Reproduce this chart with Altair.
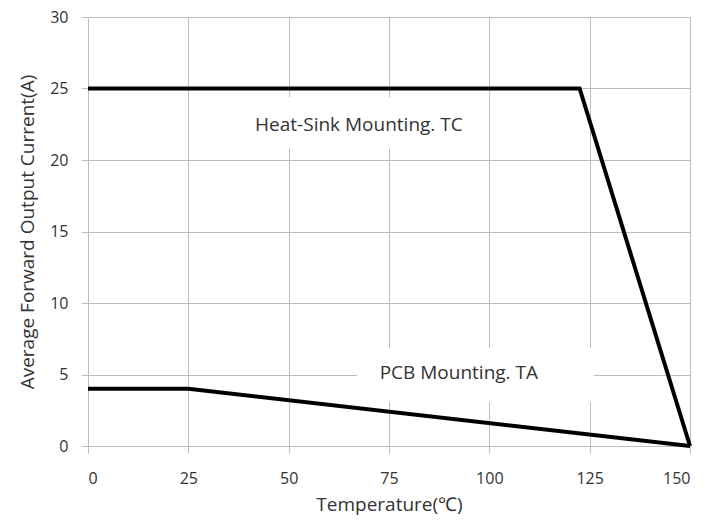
import altair as alt
import pandas as pd

# Data
hs_temp = [0, 122.5, 150]
hs_curr = [25, 25, 0]
pcb_temp = [0, 25, 150]
pcb_curr = [4, 4, 0]

label_text = ["Heat-Sink Mounting. TC", "PCB Mounting. TA"]
label_x = [67.5, 92.4]
label_y = [22.45, 5.1]
box_x1 = [38, 67]
box_x2 = [97, 126]
box_y1 = [20.8, 3.1]
box_y2 = [24.4, 6.85]

lines = pd.DataFrame(
    [{"series": "Heat-Sink", "order": i, "t": t, "c": c} for i, (t, c) in enumerate(zip(hs_temp, hs_curr))]
    + [{"series": "PCB", "order": i, "t": t, "c": c} for i, (t, c) in enumerate(zip(pcb_temp, pcb_curr))]
)
labels = pd.DataFrame({"text": label_text, "x": label_x, "y": label_y,
                       "x1": box_x1, "x2": box_x2, "y1": box_y1, "y2": box_y2})

FONT = "Open Sans"
xscale = alt.Scale(domain=[0, 150], nice=False)
yscale = alt.Scale(domain=[0, 30], nice=False)

xaxis = alt.Axis(values=[0, 25, 50, 75, 100, 125, 150], title="Temperature(℃)",
                 grid=True, gridColor="#bdbdbd", gridWidth=1,
                 domain=False, tickColor="#bdbdbd", tickSize=7,
                 labelFont=FONT, labelFontSize=16, labelColor="#333333", labelPadding=17,
                 titleFont=FONT, titleFontSize=19, titleFontWeight="normal", titleColor="#333333",
                 titlePadding=9)
yaxis = alt.Axis(values=[0, 5, 10, 15, 20, 25, 30], title="Average Forward Output Current(A)",
                 grid=True, gridColor="#bdbdbd", gridWidth=1,
                 domain=False, tickColor="#bdbdbd", tickSize=7,
                 labelFont=FONT, labelFontSize=16, labelColor="#333333", labelPadding=13,
                 titleFont=FONT, titleFontSize=19, titleFontWeight="normal", titleColor="#333333",
                 titlePadding=12)

boxes = alt.Chart(labels).mark_rect(fill="white").encode(
    x=alt.X("x1:Q", scale=xscale, axis=xaxis),
    x2="x2:Q",
    y=alt.Y("y1:Q", scale=yscale, axis=yaxis),
    y2="y2:Q",
)

line = alt.Chart(lines).mark_line(color="black", strokeWidth=4, strokeJoin="miter").encode(
    x=alt.X("t:Q", scale=xscale),
    y=alt.Y("c:Q", scale=yscale),
    detail="series:N",
    order="order:Q",
)

text = alt.Chart(labels).mark_text(font=FONT, fontSize=19, color="#333333",
                                   align="center", baseline="middle").encode(
    x=alt.X("x:Q", scale=xscale),
    y=alt.Y("y:Q", scale=yscale),
    text="text:N",
)

chart = alt.layer(boxes, line, text).properties(
    width=602, height=429,
    autosize=alt.AutoSizeParams(type="none"),
    padding={"left": 80, "top": 9, "right": 9, "bottom": 77},
    background="white",
).configure_view(stroke=None)

chart.save("out.html", embed_options={"renderer": "svg", "actions": False})
